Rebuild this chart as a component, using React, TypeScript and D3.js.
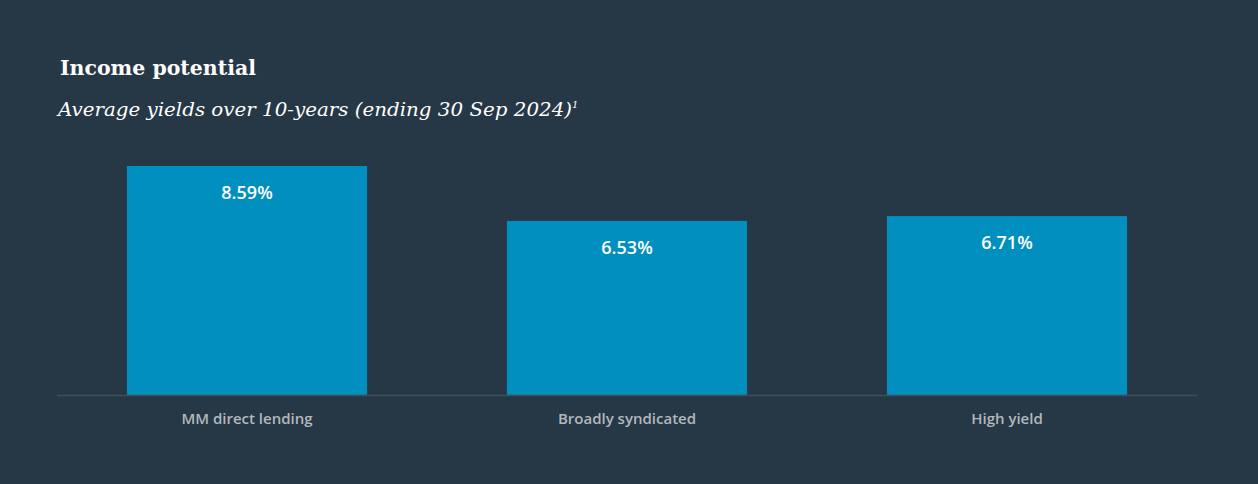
import * as d3 from "d3";

const categories = ["MM direct lending", "Broadly syndicated", "High yield"];
const yields = [8.59, 6.53, 6.71];

const title = "Income potential";
const subtitle = "Average yields over 10-years (ending 30 Sep 2024)";

export default function App() {
  const width = 1258;
  const height = 484;
  const margin = { left: 57, right: 61, baseline: 395, top: 166 };

  const xScale = d3
    .scaleBand<string>()
    .domain(categories)
    .range([margin.left, width - margin.right])
    .paddingInner(0.368)
    .paddingOuter(0.184);

  const yScale = d3
    .scaleLinear()
    .domain([0, d3.max(yields) ?? 1])
    .range([margin.baseline, margin.top]);

  return (
    <svg
      width={width}
      height={height}
      style={{ position: "fixed", top: 0, left: 0, display: "block" }}
    >
      <rect x={0} y={0} width={width} height={height} fill="#263746" />
      <text
        x={60}
        y={75}
        fill="#ffffff"
        fontFamily="'DejaVu Serif', serif"
        fontWeight="bold"
        fontSize={20}
        textLength={196}
        lengthAdjust="spacingAndGlyphs"
      >
        {title}
      </text>
      <text
        x={58}
        y={116}
        fill="#ffffff"
        fontFamily="'DejaVu Serif', serif"
        fontStyle="italic"
        fontSize={19}
      >
        <tspan textLength={514} lengthAdjust="spacingAndGlyphs">
          {subtitle}
        </tspan>
        <tspan fontSize={10} dy={-8}>
          1
        </tspan>
      </text>

      {categories.map((c, i) => (
        <g key={c}>
          <rect
            x={xScale(c)}
            y={yScale(yields[i])}
            width={xScale.bandwidth()}
            height={margin.baseline - yScale(yields[i])}
            fill="#008fbf"
          />
          <text
            x={(xScale(c) ?? 0) + xScale.bandwidth() / 2}
            y={yScale(yields[i]) + 33}
            textAnchor="middle"
            fill="#ffffff"
            fontFamily="'Open Sans', sans-serif"
            fontWeight={600}
            fontSize={18}
          >
            {yields[i].toFixed(2)}%
          </text>
          <text
            x={(xScale(c) ?? 0) + xScale.bandwidth() / 2}
            y={424}
            textAnchor="middle"
            fill="#b2b7bc"
            fontFamily="'Open Sans', sans-serif"
            fontWeight={600}
            fontSize={15}
          >
            {c}
          </text>
        </g>
      ))}

      <line
        x1={margin.left}
        x2={width - margin.right}
        y1={margin.baseline + 0.5}
        y2={margin.baseline + 0.5}
        stroke="#3e4e5d"
        strokeWidth={1.5}
      />
    </svg>
  );
}
